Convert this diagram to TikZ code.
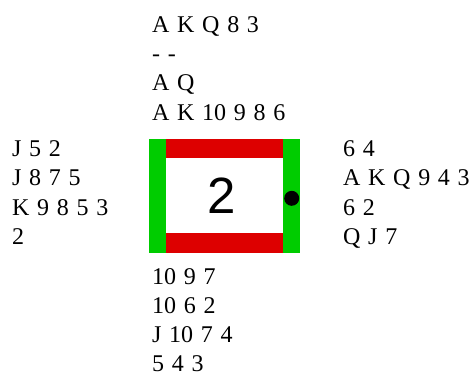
\documentclass[tikz,border=0pt]{standalone}
\usepackage{fontspec}
\setmainfont{Liberation Serif}
\newfontfamily\numfont{Liberation Sans}
\definecolor{bargreen}{RGB}{0,204,0}
\definecolor{barred}{RGB}{221,0,0}
\tikzset{
  hand/.style={anchor=base west, inner sep=0pt, font={\fontsize{24}{26}\selectfont\spaceskip=7.7pt\relax}}
}
\begin{document}
\begin{tikzpicture}[x=1pt,y=-1pt]
\useasboundingbox (0,0) rectangle (474,373);
% box
\fill[barred] (166,139) rectangle (283.3,157.7);
\fill[barred] (166,232.7) rectangle (283.3,252.7);
\fill[bargreen] (149,139) rectangle (166,252.7);
\fill[bargreen] (283.3,139) rectangle (300,252.7);
\fill[black] (291.7,198.3) circle (7.5);
\node[anchor=base, inner sep=0pt, font={\numfont\fontsize{51}{51}\selectfont}] (trick) at (222,213.3) {2};
% North
\node[hand] (n1) at (152,32.3) {A K Q 8 3};
\node[hand] (n2) at (152,61.6) {- -};
\node[hand] (n3) at (152,90.9) {A Q};
\node[hand] (n4) at (152,120.2) {A K 10 9 8 6};
% West
\node[hand] (w1) at (12,156.5) {J 5 2};
\node[hand] (w2) at (12,185.8) {J 8 7 5};
\node[hand] (w3) at (12,215.1) {K 9 8 5 3};
\node[hand] (w4) at (12,244.4) {2};
% East
\node[hand] (e1) at (343,156.5) {6 4};
\node[hand] (e2) at (343,185.8) {A K Q 9 4 3};
\node[hand] (e3) at (343,215.1) {6 2};
\node[hand] (e4) at (343,244.4) {Q J 7};
% South
\node[hand] (s1) at (152,284) {10 9 7};
\node[hand] (s2) at (152,313.3) {10 6 2};
\node[hand] (s3) at (152,342.6) {J 10 7 4};
\node[hand] (s4) at (152,371.9) {5 4 3};
\end{tikzpicture}
\end{document}
